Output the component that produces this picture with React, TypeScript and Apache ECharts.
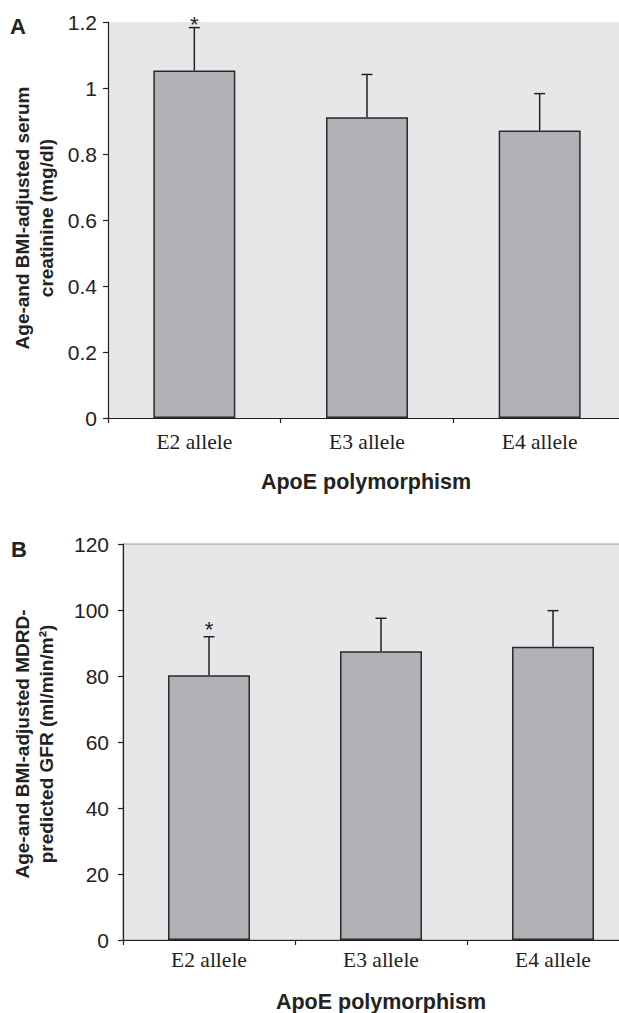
import React, { useEffect, useRef } from "react";
import * as echarts from "echarts";

const categories = ["E2 allele", "E3 allele", "E4 allele"];
const creatinineMean = [1.053, 0.911, 0.871];
const creatinineUpper = [1.183, 1.041, 0.983];
const gfrMean = [80.2, 87.5, 88.9];
const gfrUpper = [91.9, 97.5, 99.8];
const significant = [1, 0, 0];
const creatinineAxis = { min: 0, max: 1.2, interval: 0.2 };
const gfrAxis = { min: 0, max: 120, interval: 20 };

const SANS = "'Liberation Sans', Arial, Helvetica, sans-serif";
const SERIF = "'Liberation Serif', 'Times New Roman', serif";
const INK = "#222222";

function errorRender(starGap: number) {
  return (params: any, api: any) => {
    const idx = api.value(0);
    const upper = api.value(1);
    const mean = api.value(2);
    const star = api.value(3);
    const p0 = api.coord([idx, mean]);
    const p1 = api.coord([idx, upper]);
    const children: any[] = [
      {
        type: "line",
        shape: { x1: p0[0], y1: p0[1], x2: p1[0], y2: p1[1] },
        style: { stroke: INK, lineWidth: 1.5 },
      },
      {
        type: "line",
        shape: { x1: p1[0] - 5.5, y1: p1[1], x2: p1[0] + 5.5, y2: p1[1] },
        style: { stroke: INK, lineWidth: 1.5 },
      },
    ];
    if (star) {
      children.push({
        type: "text",
        x: p1[0],
        y: p1[1] - starGap,
        style: {
          text: "*",
          fill: INK,
          font: `22px ${SANS}`,
          textAlign: "center",
          textVerticalAlign: "middle",
        },
      });
    }
    return { type: "group", children };
  };
}

function errData(mean: number[], upper: number[]) {
  return mean.map((m, i) => [i, upper[i], m, significant[i]]);
}

export default function App() {
  const ref = useRef<HTMLDivElement>(null);
  useEffect(() => {
    if (!ref.current) return;
    const chart = echarts.init(ref.current, undefined, { renderer: "svg" });
    const axisLine = { show: true, lineStyle: { color: INK, width: 1.2 } };
    const axisTick = { show: true, length: 5, lineStyle: { color: INK, width: 1.2 } };
    const barStyle = { color: "#b1b1b5", borderColor: "#2a2a2a", borderWidth: 1.5 };
    chart.setOption({
      animation: false,
      backgroundColor: "#ffffff",
      grid: [
        {
          left: 108,
          top: 22,
          width: 518,
          height: 396,
          show: true,
          backgroundColor: "#e6e7e9",
          borderWidth: 0,
        },
        {
          left: 123,
          top: 544,
          width: 516,
          height: 396,
          show: true,
          backgroundColor: "#e6e7e9",
          borderColor: "#9a9a9a",
          borderWidth: 1,
        },
      ],
      xAxis: [0, 1].map((g) => ({
        type: "category",
        gridIndex: g,
        data: categories,
        axisLine,
        axisTick,
        axisLabel: {
          color: INK,
          fontFamily: SERIF,
          fontSize: 21.5,
          margin: g === 0 ? 13 : 9,
        },
      })),
      yAxis: [
        {
          type: "value",
          gridIndex: 0,
          ...creatinineAxis,
          axisLine,
          axisTick,
          splitLine: { show: false },
          axisLabel: { color: INK, fontFamily: SANS, fontSize: 21, margin: 11 },
        },
        {
          type: "value",
          gridIndex: 1,
          ...gfrAxis,
          axisLine,
          axisTick,
          splitLine: { show: false },
          axisLabel: { color: INK, fontFamily: SANS, fontSize: 21, margin: 14 },
        },
      ],
      series: [
        {
          type: "bar",
          xAxisIndex: 0,
          yAxisIndex: 0,
          data: creatinineMean,
          barWidth: 82,
          itemStyle: barStyle,
        },
        {
          type: "custom",
          xAxisIndex: 0,
          yAxisIndex: 0,
          data: errData(creatinineMean, creatinineUpper),
          renderItem: errorRender(3),
          z: 5,
        },
        {
          type: "bar",
          xAxisIndex: 1,
          yAxisIndex: 1,
          data: gfrMean,
          barWidth: 82,
          itemStyle: barStyle,
        },
        {
          type: "custom",
          xAxisIndex: 1,
          yAxisIndex: 1,
          data: errData(gfrMean, gfrUpper),
          renderItem: errorRender(7),
          z: 5,
        },
      ],
      graphic: [
        {
          type: "text",
          left: 10,
          top: 15,
          style: { text: "A", font: `bold 22px ${SANS}`, fill: INK },
        },
        {
          type: "text",
          left: 11,
          top: 538,
          style: { text: "B", font: `bold 22px ${SANS}`, fill: INK },
        },
        {
          type: "text",
          x: 34,
          y: 218,
          rotation: Math.PI / 2,
          style: {
            text: "Age-and BMI-adjusted serum\ncreatinine (mg/dl)",
            font: `bold 19px ${SANS}`,
            lineHeight: 24,
            fill: INK,
            textAlign: "center",
            textVerticalAlign: "middle",
          },
        },
        {
          type: "text",
          x: 34,
          y: 744,
          rotation: Math.PI / 2,
          style: {
            text: "Age-and BMI-adjusted MDRD-\npredicted GFR (ml/min/m²)",
            font: `bold 19px ${SANS}`,
            lineHeight: 24,
            fill: INK,
            textAlign: "center",
            textVerticalAlign: "middle",
          },
        },
        {
          type: "text",
          x: 366,
          y: 482,
          style: {
            text: "ApoE polymorphism",
            font: `bold 21.5px ${SANS}`,
            fill: INK,
            textAlign: "center",
            textVerticalAlign: "middle",
          },
        },
        {
          type: "text",
          x: 381,
          y: 1002,
          style: {
            text: "ApoE polymorphism",
            font: `bold 21.5px ${SANS}`,
            fill: INK,
            textAlign: "center",
            textVerticalAlign: "middle",
          },
        },
      ],
    });
    return () => chart.dispose();
  }, []);
  return (
    <div
      style={{
        position: "fixed",
        left: 0,
        top: 0,
        width: 619,
        height: 1013,
        overflow: "hidden",
        background: "#ffffff",
      }}
    >
      <div ref={ref} style={{ width: 660, height: 1013 }} />
    </div>
  );
}
